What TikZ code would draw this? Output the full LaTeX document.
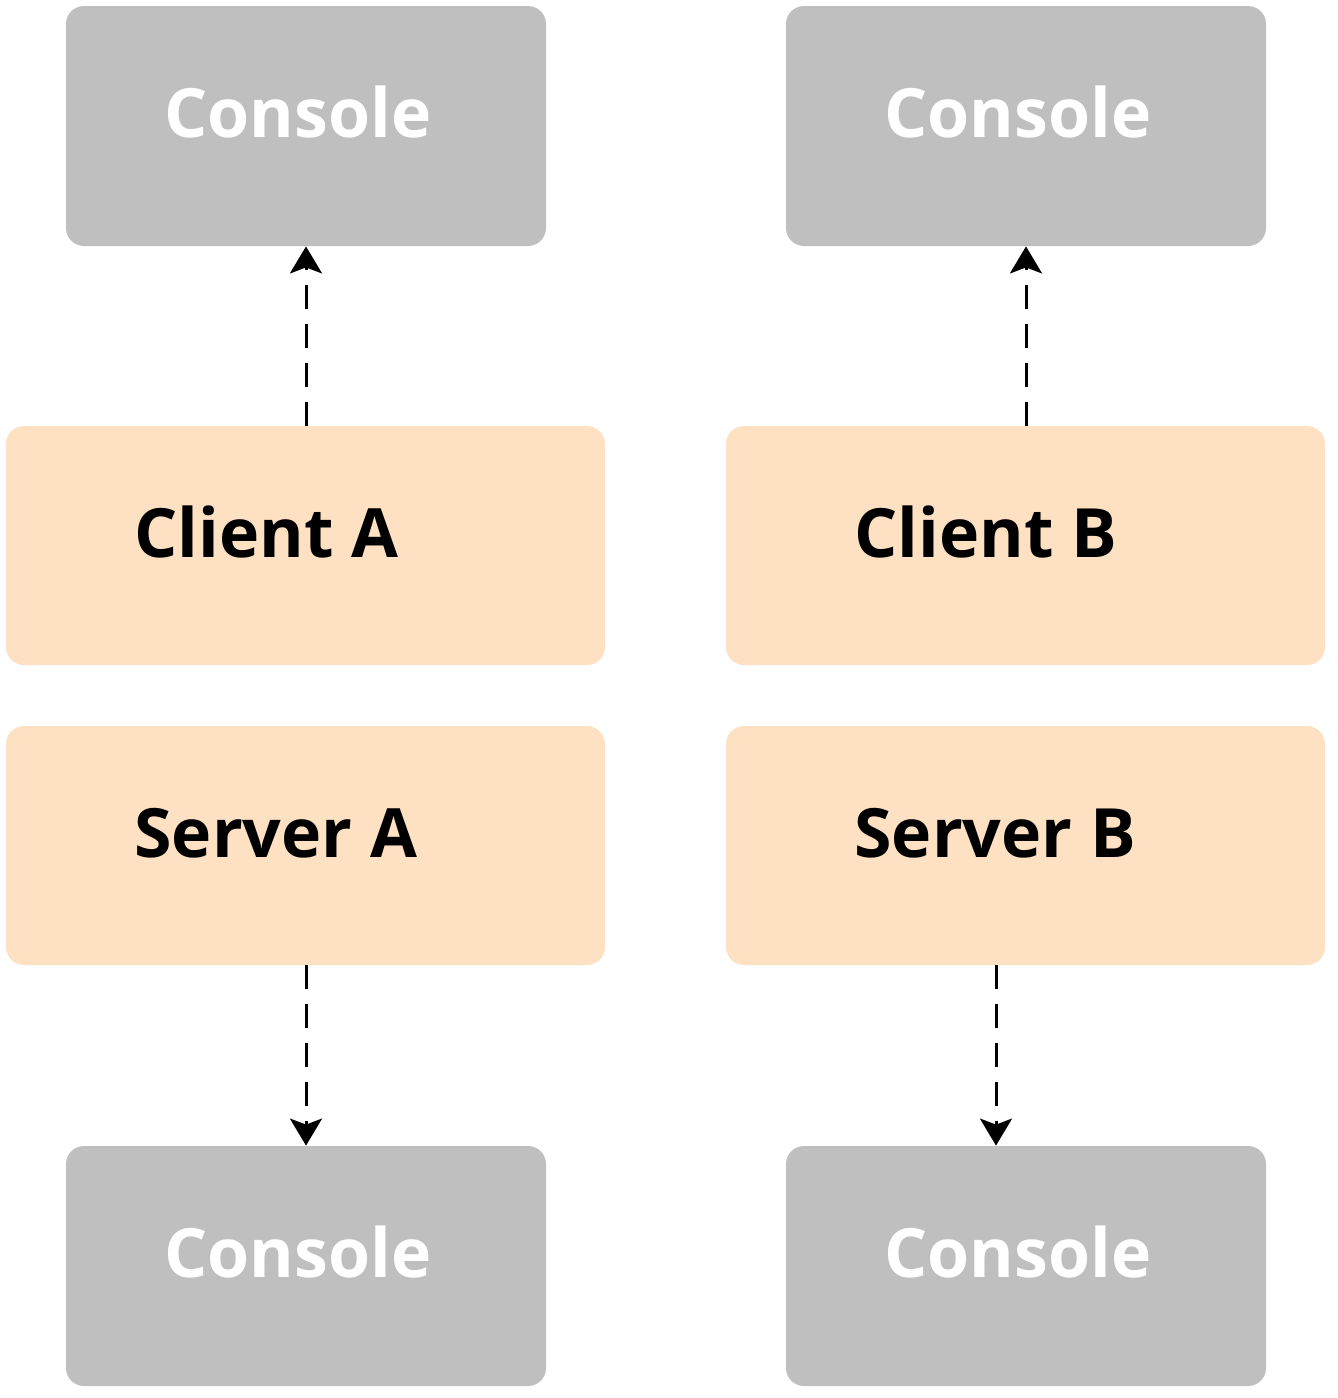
\documentclass[tikz,border=0pt]{standalone}
\usepackage{fontspec}
\setmainfont{Open Sans}
\usetikzlibrary{arrows.meta}
\definecolor{boxgrey}{RGB}{191,191,191}
\definecolor{peach}{RGB}{254,224,194}
\begin{document}
\begin{tikzpicture}[x=0.5pt,y=-0.5pt,
  consolebox/.style={fill=boxgrey,draw=none,rounded corners=9pt,minimum width=240pt,minimum height=120pt,inner sep=0pt},
  peachbox/.style={fill=peach,draw=none,rounded corners=9pt,minimum width=299.5pt,minimum height=119.5pt,inner sep=0pt},
  lbl/.style={anchor=base west,inner sep=0pt,font=\fontsize{34}{37}\selectfont\bfseries},
  arr/.style={line width=1.5pt,dash pattern=on 12pt off 7.5pt,-{Stealth[length=13.5pt,width=16pt,inset=3pt]}}]
\useasboundingbox (0,0) rectangle (1338,1398);
% left column
\node[consolebox] (conA1) at (306,126) {};
\node[peachbox] (cliA) at (305.5,545.5) {};
\node[peachbox] (srvA) at (305.5,845.5) {};
\node[consolebox] (conA2) at (306,1266) {};
% right column
\node[consolebox] (conB1) at (1026,126) {};
\node[peachbox] (cliB) at (1025.5,545.5) {};
\node[peachbox] (srvB) at (1025.5,845.5) {};
\node[consolebox] (conB2) at (1026,1266) {};
% labels
\node[lbl,text=white] (tA1) at (164,137) {Console};
\node[lbl,text=black] (tcA) at (134,557) {Client A};
\node[lbl,text=black] (tsA) at (134,857) {Server A};
\node[lbl,text=white] (tA2) at (164,1277) {Console};
\node[lbl,text=white] (tB1) at (884,137) {Console};
\node[lbl,text=black] (tcB) at (854,557) {Client B};
\node[lbl,text=black] (tsB) at (854,857) {Server B};
\node[lbl,text=white] (tB2) at (884,1277) {Console};
% connectors
\draw[arr] (conA1.south |- cliA.north) -- (conA1.south);
\draw[arr] (conB1.south |- cliB.north) -- (conB1.south);
\draw[arr] (conA2.north |- srvA.south) -- (conA2.north);
\draw[arr] ([xshift=-15pt]conB2.north |- srvB.south) -- ([xshift=-15pt]conB2.north);
\end{tikzpicture}
\end{document}
